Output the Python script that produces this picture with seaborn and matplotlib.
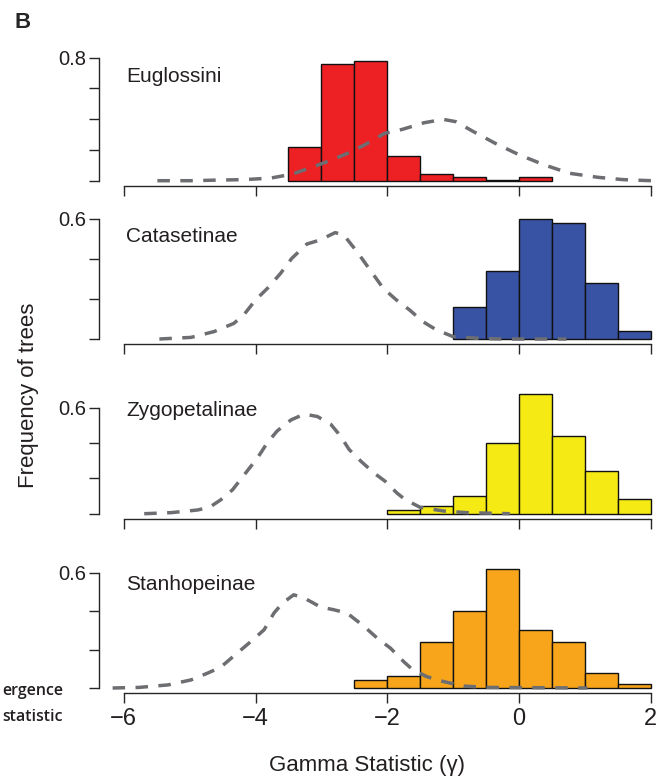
import numpy as np
import pandas as pd
import seaborn as sns
import matplotlib.pyplot as plt

# histogram bins (left edges, width 0.5) and frequencies
names = ['Euglossini', 'Catasetinae', 'Zygopetalinae', 'Stanhopeinae']
colors = ['#ED2024', '#3853A4', '#F5EA14', '#F8A51B']

eug_left = [-3.5, -3.0, -2.5, -2.0, -1.5, -1.0, -0.5, 0.0]
eug_freq = [0.221, 0.759, 0.778, 0.163, 0.043, 0.022, 0.004, 0.022]
cat_left = [-1.0, -0.5, 0.0, 0.5, 1.0, 1.5]
cat_freq = [0.159, 0.340, 0.600, 0.580, 0.280, 0.038]
zyg_left = [-2.0, -1.5, -1.0, -0.5, 0.0, 0.5, 1.0, 1.5]
zyg_freq = [0.019, 0.042, 0.100, 0.400, 0.677, 0.438, 0.240, 0.081]
sta_left = [-2.5, -2.0, -1.5, -1.0, -0.5, 0.0, 0.5, 1.0, 1.5]
sta_freq = [0.041, 0.060, 0.240, 0.401, 0.621, 0.302, 0.239, 0.078, 0.019]

# null distributions (dashed curves)
eug_null_x = [-5.49, -4.98, -4.57, -4.17, -3.77, -3.44, -3.12, -2.85, -2.58, -2.25,
              -2.04, -1.77, -1.44, -1.15, -0.96, -0.69, -0.36, 0.01, 0.39, 0.77,
              1.20, 1.58, 2.01]
eug_null_y = [0.0, 0.0, 0.004, 0.007, 0.017, 0.043, 0.091, 0.134, 0.182, 0.254,
              0.308, 0.334, 0.377, 0.399, 0.384, 0.319, 0.243, 0.167, 0.102, 0.048,
              0.022, 0.007, 0.0]
cat_null_x = [-5.46, -4.98, -4.63, -4.33, -4.18, -4.0, -3.82, -3.62, -3.45, -3.22,
              -3.02, -2.79, -2.66, -2.46, -2.26, -2.06, -1.86, -1.66, -1.46, -1.25,
              -1.0, -0.6, -0.23, 0.72]
cat_null_y = [0.0, 0.008, 0.037, 0.078, 0.12, 0.195, 0.253, 0.328, 0.403, 0.475,
              0.495, 0.532, 0.52, 0.437, 0.345, 0.253, 0.195, 0.145, 0.087, 0.045,
              0.012, 0.003, 0.0, 0.0]
zyg_null_x = [-5.69, -5.28, -4.88, -4.70, -4.53, -4.35, -4.17, -3.97, -3.82, -3.67,
              -3.46, -3.26, -3.06, -2.86, -2.71, -2.58, -2.40, -2.20, -2.03, -1.85,
              -1.72, -1.50, -1.14, -0.79, -0.14]
zyg_null_y = [0.0, 0.006, 0.021, 0.036, 0.078, 0.135, 0.221, 0.316, 0.402, 0.469,
              0.531, 0.564, 0.55, 0.507, 0.44, 0.364, 0.297, 0.23, 0.183, 0.116,
              0.078, 0.036, 0.015, 0.006, 0.0]
sta_null_x = [-6.17, -5.77, -5.33, -4.98, -4.73, -4.53, -4.27, -4.07, -3.87, -3.72,
              -3.59, -3.42, -3.26, -3.01, -2.81, -2.61, -2.35, -2.15, -1.95, -1.75,
              -1.62, -1.40, -1.14, -0.84, -0.49, 1.04]
sta_null_y = [0.0, 0.003, 0.016, 0.042, 0.077, 0.108, 0.184, 0.242, 0.303, 0.39,
              0.442, 0.485, 0.468, 0.421, 0.407, 0.39, 0.32, 0.259, 0.207, 0.137,
              0.097, 0.059, 0.033, 0.010, 0.003, 0.0]

lefts = [eug_left, cat_left, zyg_left, sta_left]
freqs = [eug_freq, cat_freq, zyg_freq, sta_freq]
null_x = [eug_null_x, cat_null_x, zyg_null_x, sta_null_x]
null_y = [eug_null_y, cat_null_y, zyg_null_y, sta_null_y]
top_ticks = [0.8, 0.6, 0.6, 0.6]
xticks = [-6, -4, -2, 0, 2]
xticklabels = ['\u22126', '\u22124', '\u22122', '0', '2']

sns.set_style('ticks')
plt.rcParams['font.family'] = ['Liberation Sans', 'DejaVu Sans']
plt.rcParams['axes.linewidth'] = 1.0

W, H = 656, 776
fig = plt.figure(figsize=(W / 100, H / 100), dpi=100)

# panel geometry in pixels: zero line, top tick, top of axes, label centre
zero_px = [180.7, 339.0, 513.7, 688.0]
tick_px = [57.7, 219.0, 407.7, 572.7]
top_px = [50, 208, 388, 558]
label_px = [76, 236, 411, 585]
left_px, right_px = 99, 656
x0_px, x_unit = 123.8, (650.7 - 123.8) / 8

for i in range(4):
    ppu = (zero_px[i] - tick_px[i]) / top_ticks[i]
    bot_px = zero_px[i] + 5
    ax = fig.add_axes([left_px / W, 1 - bot_px / H,
                       (right_px - left_px) / W, (bot_px - top_px[i]) / H])

    df = pd.DataFrame({'gamma': np.array(lefts[i]) + 0.25, 'freq': freqs[i]})
    sns.histplot(data=df, x='gamma', weights='freq', binwidth=0.5,
                 binrange=(lefts[i][0], lefts[i][-1] + 0.5), color=colors[i],
                 edgecolor='#111111', linewidth=1.0, alpha=1, ax=ax)
    sns.lineplot(x=null_x[i], y=null_y[i], color='#6D6E71', linewidth=2.5,
                 linestyle=(0, (3.6, 3.0)), ax=ax, zorder=3)

    ax.set_xlim(-6 - (x0_px - left_px) / x_unit, 2 + (right_px - 650.7) / x_unit)
    ax.set_ylim(-(bot_px - zero_px[i]) / ppu, (zero_px[i] - top_px[i]) / ppu)

    yt = np.linspace(0, top_ticks[i], int(round(top_ticks[i] / 0.2)) + 1)
    ax.set_yticks(yt)
    ax.set_yticklabels([''] * (len(yt) - 1) + [f'{top_ticks[i]:.1f}'])
    ax.set_xticks(xticks)
    sns.despine(ax=ax)
    ax.spines['left'].set_bounds(0, top_ticks[i])
    ax.spines['bottom'].set_bounds(-6, 2)
    ax.tick_params(axis='y', length=7, width=1, pad=2, labelsize=14.5,
                   labelcolor='#231F20')
    ax.tick_params(axis='x', length=7, width=1, pad=4, labelsize=17,
                   labelcolor='#231F20')
    if i < 3:
        ax.tick_params(axis='x', labelbottom=False)
    else:
        ax.set_xticklabels(xticklabels)
    ax.set_xlabel('')
    ax.set_ylabel('')

    ax.text(-5.96, (zero_px[i] - label_px[i]) / ppu, names[i], fontsize=15,
            va='center', ha='left', color='#231F20')

fig.text(15 / W, 1 - 22 / H, 'B', fontsize=16, fontweight='bold', va='center')
fig.text(29 / W, 1 - 395 / H, 'Frequency of trees', rotation=90, fontsize=16,
         va='center', ha='center', color='#231F20')
fig.text(367 / W, 1 - 765 / H, 'Gamma Statistic (\u03b3)', fontsize=16,
         va='center', ha='center', color='#231F20')
# left labels of a neighbouring panel, cut at the figure edge in the reference
fig.text(2 / W, 1 - 691 / H, 'ergence', fontsize=11.5, fontweight='semibold',
         family=['Open Sans', 'DejaVu Sans'], ha='left', va='center', color='#231F20')
fig.text(2 / W, 1 - 717 / H, 'statistic', fontsize=11.5, fontweight='semibold',
         family=['Open Sans', 'DejaVu Sans'], ha='left', va='center', color='#231F20')

fig.savefig('out.png', dpi=100)
